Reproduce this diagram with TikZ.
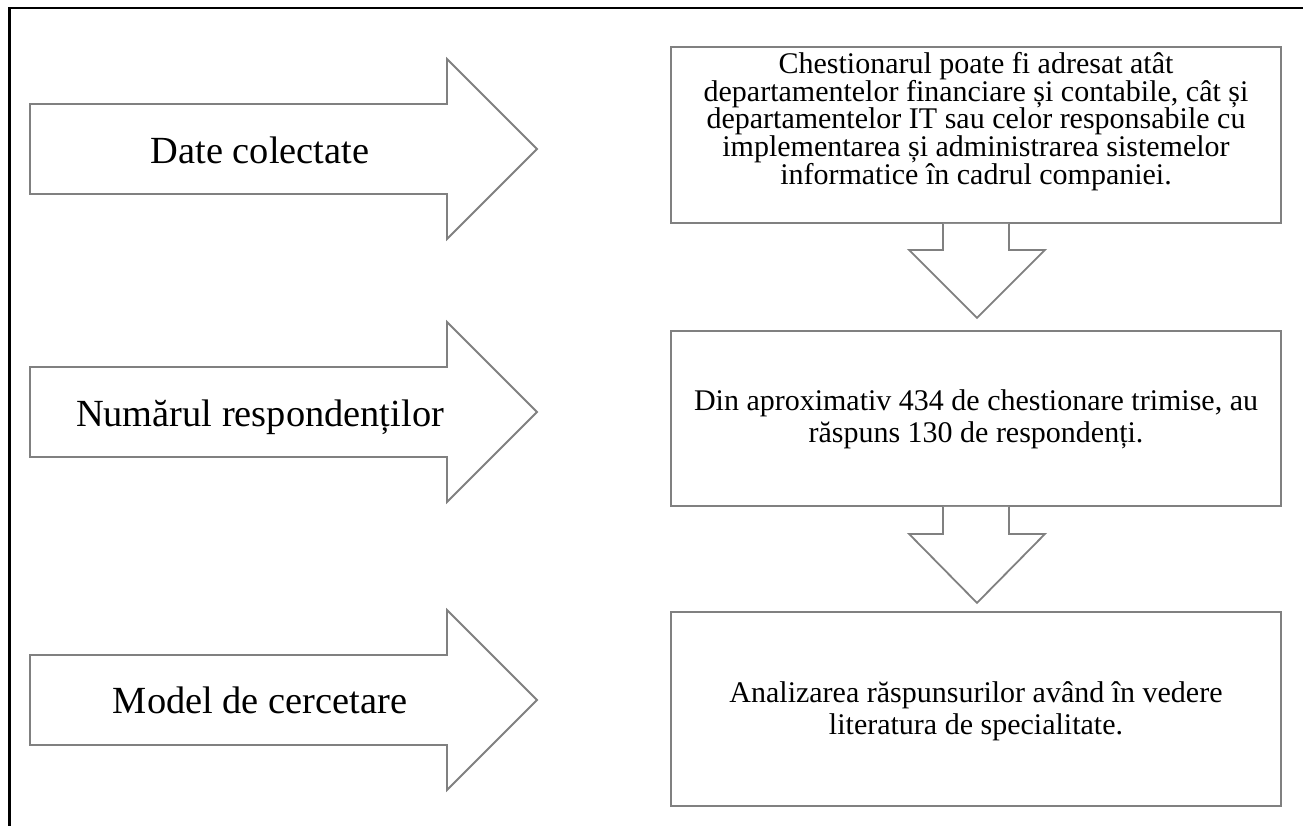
\documentclass[tikz,border=0pt]{standalone}
\usepackage{fontspec}
\setmainfont{Liberation Serif}
\usepackage{tikz}
\usetikzlibrary{calc}
\definecolor{shapegray}{RGB}{128,128,128}

\begin{document}
\begin{tikzpicture}[x=0.5pt,y=-0.5pt,
	blockarrow/.style={draw=shapegray,line width=0.9pt,fill=white,line join=miter},
	textbox/.style={draw=shapegray,line width=0.9pt,minimum width=305pt,inner sep=0pt},
	boxtext/.style={align=center,inner sep=0pt,font=\fontsize{15pt}{16pt}\selectfont},
	arrowtext/.style={anchor=base,inner sep=0pt,font=\fontsize{19.2pt}{22pt}\selectfont}]
	\useasboundingbox (0,0) rectangle (1303,826);
	\draw[line width=1.4pt] (1303,8)--(9.5,8)--(9.5,826);
	% left arrows
	\draw[blockarrow] (30,104)--(447,104)--(447,59)--(537,149)--(447,239)--(447,194)--(30,194)--cycle;
	\draw[blockarrow] (30,367)--(447,367)--(447,322)--(537,412)--(447,502)--(447,457)--(30,457)--cycle;
	\draw[blockarrow] (30,655)--(447,655)--(447,610)--(537,700)--(447,790)--(447,745)--(30,745)--cycle;
	\node[arrowtext] (colect) at (260,163) {Date colectate};
	\node[arrowtext] (numar) at (260,426) {Numărul respondenților};
	\node[arrowtext] (model) at (260,713) {Model de cercetare};
	% boxes
	\node[textbox,minimum height=88pt] (chest) at (976,135) {};
	\node[textbox,minimum height=87.5pt] (respond) at (976,418.5) {};
	\node[textbox,minimum height=97pt] (analiza) at (976,709) {};
	\node[boxtext,font=\fontsize{15pt}{13.9pt}\selectfont] (chesttext) at (976,121.5) {Chestionarul poate fi adresat atât\\departamentelor financiare și contabile, cât și\\departamentelor IT sau celor responsabile cu\\implementarea și administrarea sistemelor\\informatice în cadrul companiei.};
	\node[boxtext] (respondtext) at (976,419) {Din aproximativ 434 de chestionare trimise, au\\răspuns 130 de respondenți.};
	\node[boxtext] (analizatext) at (976,711.5) {Analizarea răspunsurilor având în vedere\\literatura de specialitate.};
	% down arrows
	\draw[blockarrow] ($(chest.south)+(-33,0)$)--++(0,26)--++(-34,0)--($(chest.south)+(1,94)$)--($(chest.south)+(69,26)$)--++(-36,0)--($(chest.south)+(33,0)$);
	\draw[blockarrow] ($(respond.south)+(-33,0)$)--++(0,27)--++(-34,0)--($(respond.south)+(1,96)$)--($(respond.south)+(69,27)$)--++(-36,0)--($(respond.south)+(33,0)$);
\end{tikzpicture}
\end{document}
